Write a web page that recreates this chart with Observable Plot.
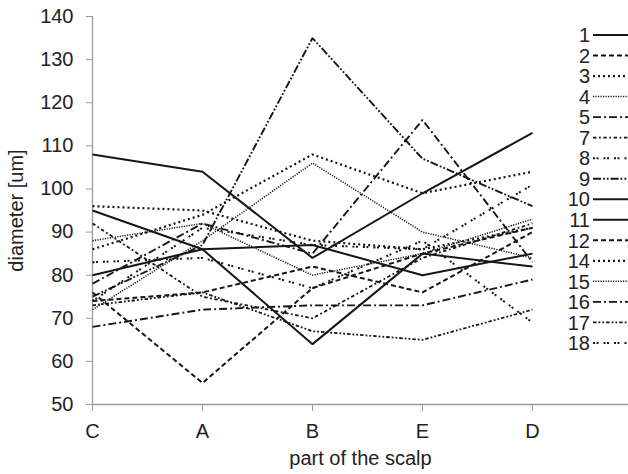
<!DOCTYPE html>
<html>
<head>
<meta charset="utf-8">
<script src="https://cdn.jsdelivr.net/npm/d3@7"></script>
<script src="https://cdn.jsdelivr.net/npm/@observablehq/plot@0.6"></script>
<style>
  html, body { margin: 0; padding: 0; background: #fff; }
  #chart { position: relative; width: 628px; height: 474px; overflow: hidden; }
  svg { font-family: "Liberation Sans", Arial, Helvetica, sans-serif; }
</style>
</head>
<body>
<div id="chart"></div>
<script>
// Categories (x axis, in plotted order)
const categories = ["C", "A", "B", "E", "D"];
const yTicks = [50, 60, 70, 80, 90, 100, 110, 120, 130, 140];

// Series values, one per category (C, A, B, E, D)
const s1  = [108, 104, 84, 99, 113];
const s2  = [76, 55, 77, 85, 91];
const s3  = [96, 95, 88, 86, 91];
const s4  = [72, 88, 106, 90, 84];
const s5  = [78, 92, 85, 116, 83];
const s7  = [92, 75, 70, 84, 92];
const s8  = [83, 84, 77, 88, 69];
const s9  = [75, 87, 135, 107, 96];
const s10 = [95, 86, 64, 85, 82];
const s11 = [80, 86, 87, 80, 85];
const s12 = [74, 76, 82, 76, 90];
const s14 = [86, 94, 108, 99, 104];
const s15 = [88, 92, 80, 85, 93];
const s16 = [68, 72, 73, 73, 79];
const s17 = [73, 76, 67, 65, 72];
const s18 = [74, 91, 87, 86, 101];

const seriesNames = ["1","2","3","4","5","7","8","9","10","11","12","14","15","16","17","18"];
const seriesValues = [s1,s2,s3,s4,s5,s7,s8,s9,s10,s11,s12,s14,s15,s16,s17,s18];

// line styles per series
const styleOf = {
  "1":  {dash: null, w: 2},
  "10": {dash: null, w: 2},
  "11": {dash: null, w: 2},
  "2":  {dash: "5,3", w: 2},
  "12": {dash: "5,3", w: 2},
  "3":  {dash: "2,3", w: 2.2},
  "14": {dash: "2,3", w: 2.2},
  "4":  {dash: "1.2,1.3", w: 1.5},
  "15": {dash: "1.2,1.3", w: 1.5},
  "5":  {dash: "8,3,2,3", w: 1.9},
  "16": {dash: "8,3,2,3", w: 1.9},
  "7":  {dash: "3.5,2.5,1.8,2.5", w: 1.8},
  "17": {dash: "3.5,2,1.8,2,1.8,2", w: 1.8},
  "9":  {dash: "8,2,1.8,2,1.8,2", w: 1.9},
  "8":  {dash: "2,1.5,2,5", w: 2},
  "18": {dash: "2,1.5,2,5", w: 2}
};

const W = 628, H = 474;
const mL = 92, mR = 0, mT = 16, mB = 70;
const step = 110;
const xMax = (W - mL - mR) / step;

const data = [];
seriesNames.forEach((name, si) => {
  seriesValues[si].forEach((v, ci) => data.push({series: name, xi: ci, value: v}));
});

const ink = "#161616";
const axisGray = "#9a9a9a";

const lineMarks = seriesNames.map(name => {
  const st = styleOf[name];
  const o = {x: "xi", y: "value", stroke: ink, strokeWidth: st.w, strokeLinejoin: "miter", strokeLinecap: "butt"};
  if (st.dash) o.strokeDasharray = st.dash;
  return Plot.line(data.filter(d => d.series === name), o);
});

const chart = Plot.plot({
  width: W, height: H,
  marginLeft: mL, marginRight: mR, marginTop: mT, marginBottom: mB,
  style: {fontFamily: '"Liberation Sans", Arial, sans-serif', fontSize: "20px", color: "#222", background: "#fff"},
  x: {domain: [0, xMax], range: [mL, W - mR]},
  y: {domain: [50, 140]},
  marks: [
    Plot.axisY({ticks: yTicks, tickSize: 6, tickPadding: 13, stroke: axisGray, fill: "#222", fontSize: 20,
      label: "diameter [um]", labelAnchor: "center", labelOffset: 84, labelArrow: "none"}),
    Plot.axisX({ticks: categories.map((c, i) => i), tickFormat: i => categories[i], tickSize: 7, tickPadding: 12,
      stroke: axisGray, fill: "#222", fontSize: 20,
      label: "part of the scalp", labelAnchor: "center", labelOffset: 60, labelArrow: "none"}),
    Plot.ruleY([50], {stroke: axisGray, strokeWidth: 1.3}),
    Plot.ruleX([0], {stroke: axisGray, strokeWidth: 1.3}),
    ...lineMarks
  ]
});

document.getElementById("chart").appendChild(chart);

// enlarge axis titles slightly
d3.select(chart).selectAll("g[aria-label='y-axis label'] text, g[aria-label='x-axis label'] text").attr("font-size", 20);

// Legend (right side)
const svg = d3.select(chart);
const lg = svg.append("g").attr("class", "legend");
const lx = 590, ly0 = 35, lstep = 20.53;
seriesNames.forEach((name, i) => {
  const st = styleOf[name];
  const y = ly0 + i * lstep;
  lg.append("text").attr("x", lx).attr("y", y).attr("dy", "0.36em")
    .attr("text-anchor", "end").attr("font-size", 20).attr("fill", "#222").text(name);
  const ln = lg.append("line").attr("x1", lx + 3).attr("x2", W + 5).attr("y1", y).attr("y2", y)
    .attr("stroke", ink).attr("stroke-width", st.w);
  if (st.dash) ln.attr("stroke-dasharray", st.dash);
});
</script>
</body>
</html>
